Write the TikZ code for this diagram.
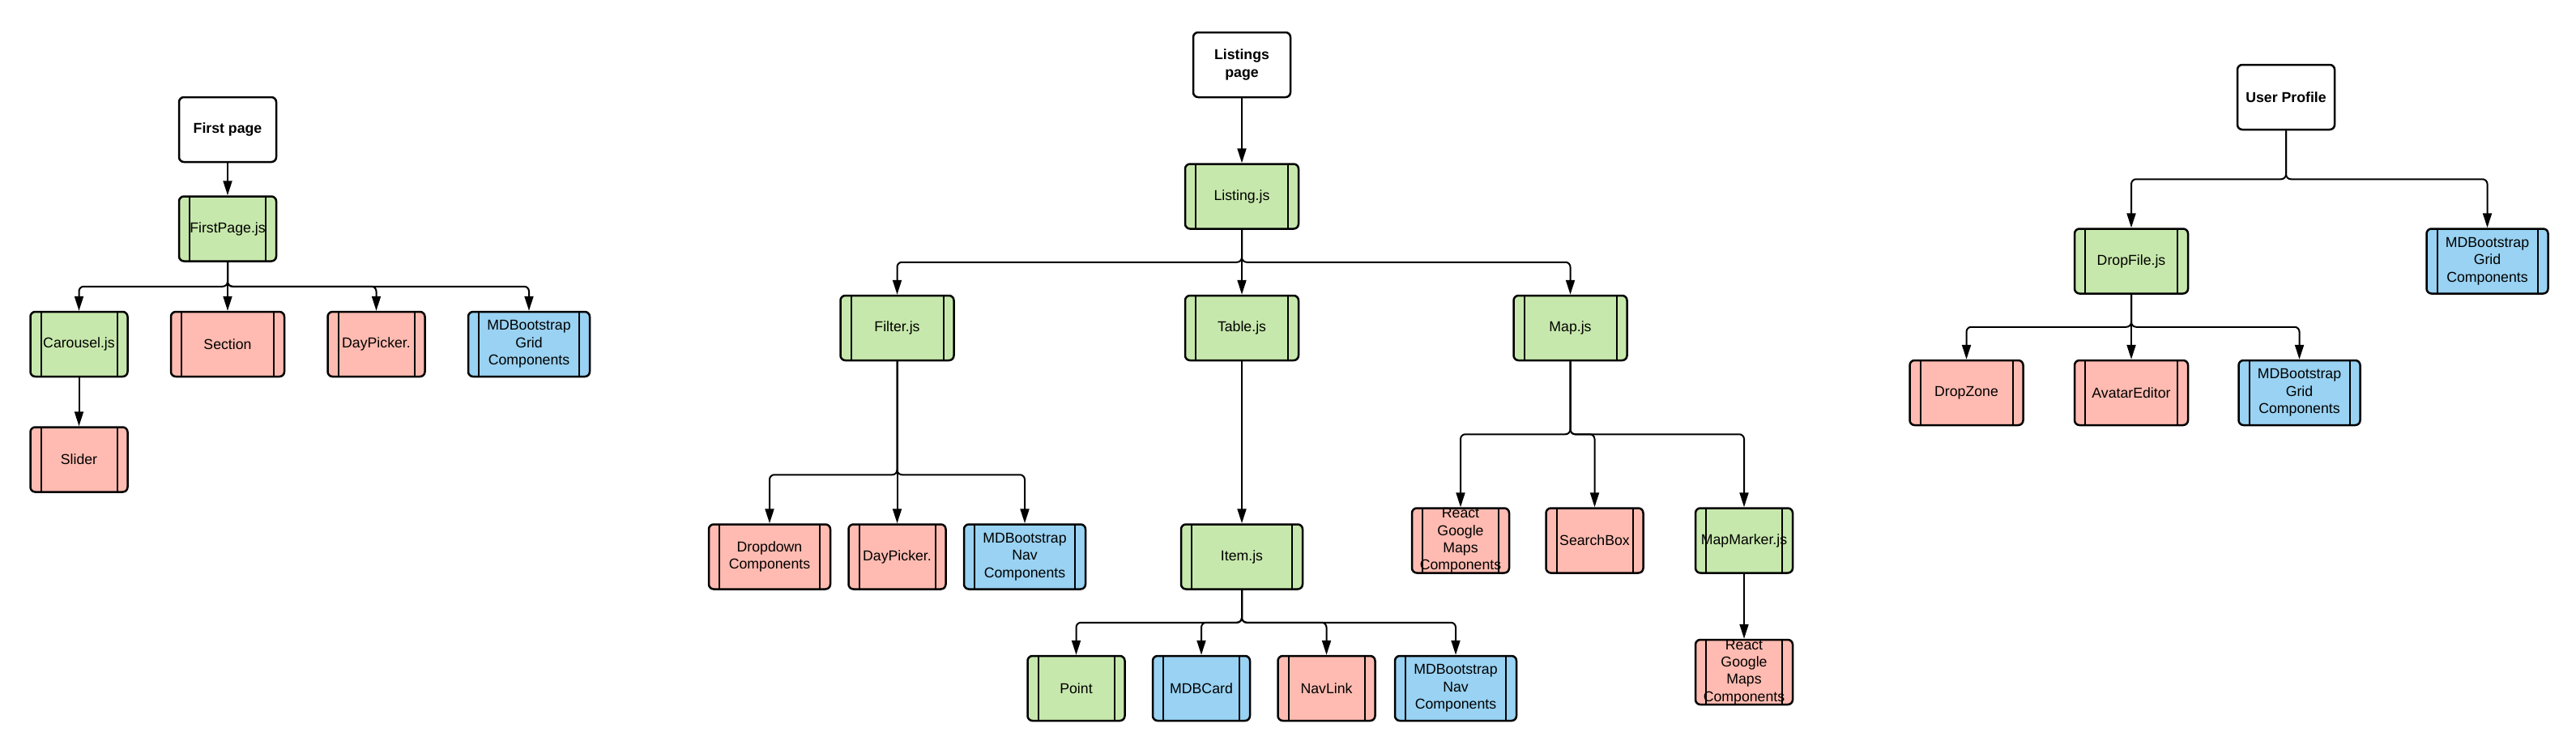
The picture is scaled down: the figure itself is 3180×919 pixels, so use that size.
\documentclass[tikz,border=0pt]{standalone}
\usepackage{fontspec}
\setmainfont{Liberation Sans}
\usetikzlibrary{positioning, arrows.meta}

\definecolor{jsgreen}{HTML}{C7E8AC}
\definecolor{libred}{HTML}{FFBBB1}
\definecolor{mdbblue}{HTML}{99D2F2}

\tikzset{
  box/.style={draw, line width=2.5pt, rounded corners=6pt, minimum width=#1,
    minimum height=80pt, inner sep=0pt, align=center,
    font=\fontsize{17.7pt}{21.3pt}\selectfont},
  box/.default=120pt,
  page/.style={box=#1, fill=white, font=\fontsize{17.7pt}{21.3pt}\selectfont\bfseries},
  page/.default=120pt,
  module/.style={box=#1, path picture={
      \draw[-, line width=2pt] ([xshift=13pt]path picture bounding box.north west)
        -- ([xshift=13pt]path picture bounding box.south west);
      \draw[-, line width=2pt] ([xshift=-13pt]path picture bounding box.north east)
        -- ([xshift=-13pt]path picture bounding box.south east);}},
  module/.default=120pt,
  jsfile/.style={module=#1, fill=jsgreen},
  jsfile/.default=120pt,
  lib/.style={module=#1, fill=libred},
  lib/.default=120pt,
  mdb/.style={module=#1, fill=mdbblue},
  mdb/.default=150pt,
}

\begin{document}
\begin{tikzpicture}[x=1pt, y=-1pt, ->, >={Triangle[length=18pt, width=11pt]}, line width=2pt, rounded corners=6pt]
    \useasboundingbox (0,0) rectangle (3180,919);

    % First page
    \node[page] (FP) at (281,160) {First page};
    \node[jsfile, below=40pt of FP] (FPJ) {FirstPage.js};
    \node[lib=140pt, below=60pt of FPJ] (Sec) {Section};
    \node[jsfile, left=51pt of Sec] (Car) {Carousel.js};
    \node[lib, right=51pt of Sec] (Day1) {DayPicker.};
    \node[mdb, right=51pt of Day1] (Grid1) {MDBootstrap\\Grid\\Components};
    \node[lib, below=60pt of Car] (Sld) {Slider};
    \coordinate[below=30pt of FPJ] (FPJs);

    % Listings page
    \node[page] (LP) at (1533,80) {Listings\\page};
    \node[jsfile=140pt, below=80pt of LP] (LJ) {Listing.js};
    \node[jsfile=140pt, below=80pt of LJ] (Tab) {Table.js};
    \node[jsfile=140pt, left=283pt of Tab] (Fil) {Filter.js};
    \node[jsfile=140pt, right=263pt of Tab] (Map) {Map.js};
    \coordinate[below=40pt of LJ] (LJs);

    \node[lib, below=200pt of Fil] (Day2) {DayPicker.};
    \node[lib=150pt, left=20pt of Day2] (Drop) {Dropdown\\Components};
    \node[mdb, right=20pt of Day2] (Nav1) {MDBootstrap\\Nav\\Components};
    \coordinate[below=140pt of Fil] (Fils);

    \node[jsfile=150pt, below=200pt of Tab] (Item) {Item.js};
    \node[mdb=120pt, below=80pt of Item, xshift=-50pt] (Card) {MDBCard};
    \node[jsfile, left=32pt of Card] (Pt) {Point};
    \node[lib, right=32pt of Card] (NavL) {NavLink};
    \node[mdb, right=22pt of NavL] (Nav2) {MDBootstrap\\Nav\\Components};
    \coordinate[below=40pt of Item] (Items);

    \node[lib, below=180pt of Map, xshift=30pt] (Srch) {SearchBox};
    \node[lib, left=43pt of Srch] (RGM1) {React\\Google\\Maps\\Components};
    \node[jsfile, right=62pt of Srch] (Mark) {MapMarker.js};
    \node[lib, below=80pt of Mark] (RGM2) {React\\Google\\Maps\\Components};
    \coordinate[below=90pt of Map] (Maps);

    % User Profile
    \node[page] (UP) at (2822,120) {User Profile};
    \node[jsfile=140pt, below=120pt of UP, xshift=-191pt] (DF) {DropFile.js};
    \node[mdb, right=292pt of DF] (Grid2) {MDBootstrap\\Grid\\Components};
    \node[lib=140pt, below=80pt of DF] (AE) {AvatarEditor};
    \node[lib=140pt, left=61pt of AE] (DZ) {DropZone};
    \node[mdb, right=60pt of AE] (Grid3) {MDBootstrap\\Grid\\Components};
    \coordinate[below=60pt of UP] (UPs);
    \coordinate[below=40pt of DF] (DFs);

    \draw (FP) -- (FPJ);
    \draw (FPJ) -- (FPJs) -| (Car);
    \draw (FPJ) -- (Sec);
    \draw (FPJ) -- (FPJs) -| (Day1);
    \draw (FPJ) -- (FPJs) -| (Grid1);
    \draw (Car) -- (Sld);

    \draw (LP) -- (LJ);
    \draw (LJ) -- (LJs) -| (Fil);
    \draw (LJ) -- (Tab);
    \draw (LJ) -- (LJs) -| (Map);

    \draw (Fil) -- (Fils) -| (Drop);
    \draw (Fil) -- (Day2);
    \draw (Fil) -- (Fils) -| (Nav1);

    \draw (Tab) -- (Item);
    \draw (Item) -- (Items) -| (Pt);
    \draw (Item) -- (Items) -| (Card);
    \draw (Item) -- (Items) -| (NavL);
    \draw (Item) -- (Items) -| (Nav2);

    \draw (Map) -- (Maps) -| (RGM1);
    \draw (Map) -- (Maps) -| (Srch);
    \draw (Map) -- (Maps) -| (Mark);
    \draw (Mark) -- (RGM2);

    \draw (UP) -- (UPs) -| (DF);
    \draw (UP) -- (UPs) -| (Grid2);
    \draw (DF) -- (DFs) -| (DZ);
    \draw (DF) -- (AE);
    \draw (DF) -- (DFs) -| (Grid3);

\end{tikzpicture}
\end{document}
